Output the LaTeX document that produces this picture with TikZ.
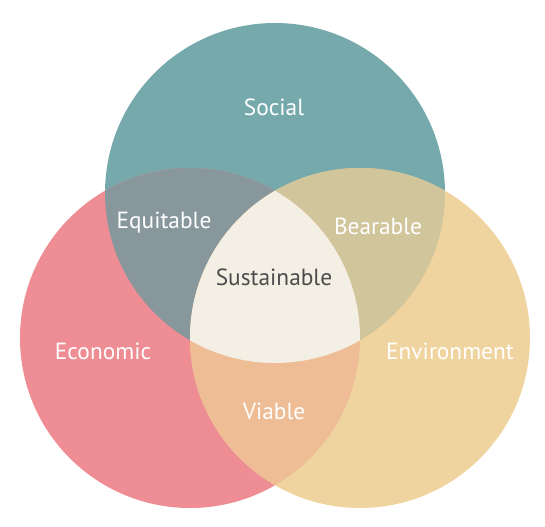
\documentclass[tikz,border=0pt]{standalone}
\usepackage{fontspec}
\setmainfont{PT Sans}
\usetikzlibrary{positioning}

\definecolor{socialcol}{HTML}{76A9AC}
\definecolor{ecocol}{HTML}{EE8D93}
\definecolor{envcol}{HTML}{F0D49F}
\definecolor{equitcol}{HTML}{87979C}
\definecolor{bearcol}{HTML}{D0C59B}
\definecolor{viablecol}{HTML}{EEBD95}
\definecolor{sustcol}{HTML}{F3EFE4}

\tikzset{
    label/.style={font=\fontsize{13.3}{15}\selectfont, text=white},
    centre/.style={font=\fontsize{13.3}{15}\selectfont, text=black!70}
}

\begin{document}
\begin{tikzpicture}

    \useasboundingbox (0,0) rectangle (10.9,10.54);

    \coordinate (soc) at (5.5,6.68);
    \coordinate (eco) at (3.8,3.78);
    \coordinate (env) at (7.2,3.78);
    \def\rad{3.4}

    \fill[socialcol] (soc) circle (\rad);
    \fill[ecocol] (eco) circle (\rad);
    \fill[envcol] (env) circle (\rad);

    \begin{scope}
        \clip (soc) circle (\rad);
        \fill[equitcol] (eco) circle (\rad);
        \fill[bearcol] (env) circle (\rad);
    \end{scope}
    \begin{scope}
        \clip (eco) circle (\rad);
        \fill[viablecol] (env) circle (\rad);
        \clip (env) circle (\rad);
        \fill[sustcol] (soc) circle (\rad);
    \end{scope}

    \node (social) [label] at (5.48,8.4) {Social};
    \node (equitable) [label] at (3.28,6.08) {Equitable};
    \node (bearable) [label] at (7.56,6.02) {Bearable};
    \node (sustainable) [centre] at (5.48,5.0) {Sustainable};
    \node (economic) [label] at (2.06,3.52) {Economic};
    \node (environment) [label] at (9.0,3.52) {Environment};
    \node (viable) [label] at (5.48,2.32) {Viable};

\end{tikzpicture}
\end{document}
